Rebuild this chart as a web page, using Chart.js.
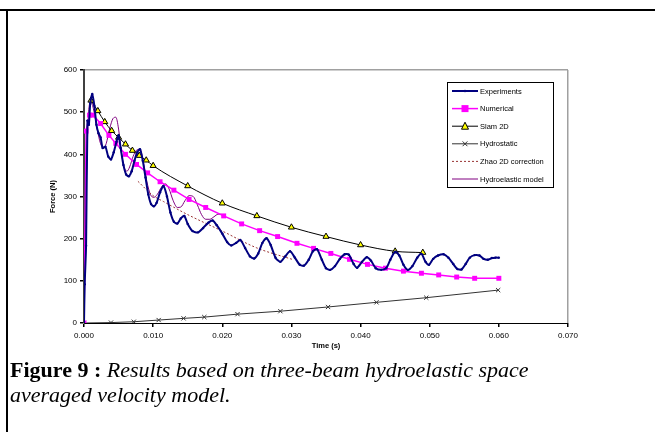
<!DOCTYPE html>
<html>
<head>
<meta charset="utf-8">
<script src="https://cdn.jsdelivr.net/npm/chart.js@4.4.0/dist/chart.umd.min.js"></script>
<style>
  html, body { margin: 0; padding: 0; background: #fff; overflow: hidden; }
  body { width: 655px; height: 432px; position: relative; }
  .frame-top { position: absolute; left: 0; top: 9px; width: 655px; height: 2px; background: #000; }
  .frame-left { position: absolute; left: 6px; top: 9px; width: 2px; height: 423px; background: #000; }
  #wrap { position: absolute; left: 0; top: 0; width: 600px; height: 360px; }
  .caption {
    position: absolute; left: 10px; top: 357px;
    font-family: "Liberation Serif", "Times New Roman", serif;
    font-size: 22px; line-height: 25px; color: #000; white-space: nowrap;
  }
  .caption b { font-weight: bold; }
  .caption i { font-style: italic; }
</style>
</head>
<body>
<div class="frame-top"></div>
<div class="frame-left"></div>
<div id="wrap"><canvas id="forceChart" width="600" height="360"></canvas></div>
<div class="caption"><b>Figure 9 :</b> <i>Results based on three-beam hydroelastic space<br>averaged velocity model.</i></div>

<script>
// values (time in s, force in N)
const expT = [0, 0.0001, 0.0003, 0.0005, 0.0007, 0.0009, 0.0012, 0.0015, 0.0018, 0.0021, 0.0024, 0.0027, 0.0031, 0.0035, 0.0039,
  0.0043, 0.0047, 0.0050, 0.0053, 0.0057, 0.0061, 0.0065, 0.0069, 0.0073, 0.0077, 0.0081, 0.0085, 0.0089, 0.0093, 0.0097,
  0.0101, 0.0105, 0.0110, 0.0115, 0.0120, 0.0125, 0.0130, 0.0135, 0.0140, 0.0145, 0.0150, 0.0157, 0.0165, 0.0172, 0.0180,
  0.0186, 0.0192, 0.0200, 0.0207, 0.0213, 0.0220, 0.0226, 0.0233, 0.0240, 0.0246, 0.0252, 0.0258, 0.0264, 0.0270, 0.0277,
  0.0284, 0.0291, 0.0298, 0.0305, 0.0312, 0.0318, 0.0325, 0.0331, 0.0337, 0.0344, 0.0350, 0.0356, 0.0363, 0.0370, 0.0377,
  0.0383, 0.0390, 0.0395, 0.0402, 0.0409, 0.0415, 0.0422, 0.0430, 0.0437, 0.0443, 0.0450, 0.0456, 0.0462, 0.0468, 0.0475,
  0.0482, 0.0488, 0.0494, 0.0499, 0.0505, 0.0512, 0.0520, 0.0527, 0.0534, 0.0540, 0.0546, 0.0552, 0.0558, 0.0565, 0.0572,
  0.0578, 0.0584, 0.0590, 0.0595, 0.0600];
const expF = [0, 92, 183, 480, 470, 520, 543, 515, 470, 450, 440, 415, 418, 395, 388,
  405, 430, 445, 415, 375, 352, 348, 360, 385, 405, 412, 385, 345, 305, 282,
  277, 285, 310, 325, 300, 262, 240, 236, 248, 254, 235, 218, 215, 225, 238,
  243, 232, 212, 192, 184, 190, 197, 178, 158, 153, 165, 190, 201, 185, 155,
  145, 158, 170, 155, 138, 136, 150, 170, 175, 150, 130, 126, 135, 152, 163,
  162, 140, 131, 145, 156, 148, 130, 126, 130, 150, 169, 160, 138, 126, 135,
  155, 164, 145, 138, 152, 160, 163, 155, 140, 128, 127, 140, 155, 161, 160,
  152, 150, 154, 155, 155];

const numT = [0, 0.0003, 0.0008, 0.0013, 0.0024, 0.0036, 0.0046, 0.0060, 0.0076, 0.0092, 0.0110, 0.0130, 0.0152, 0.0176, 0.0202,
  0.0228, 0.0254, 0.0280, 0.0308, 0.0332, 0.0357, 0.0384, 0.0410, 0.0436, 0.0462, 0.0488, 0.0513, 0.0539, 0.0565, 0.0600];
const numF = [0, 455, 493, 493, 473, 445, 426, 400, 376, 356, 335, 315, 293, 274, 254,
  235, 219, 205, 189, 177, 165, 151, 139, 130, 123, 118, 114, 109, 106, 106];

const slamT = [0.001, 0.002, 0.003, 0.004, 0.005, 0.006, 0.007, 0.008, 0.009, 0.010, 0.015, 0.020, 0.025, 0.030, 0.035, 0.040, 0.045, 0.049];
const slamF = [528, 503, 477, 456, 440, 424, 409, 397, 386, 373, 325, 284, 254, 227, 205, 185, 170, 167];

const hydT = [0, 0.0039, 0.0072, 0.0108, 0.0144, 0.0174, 0.0222, 0.0284, 0.0353, 0.0423, 0.0495, 0.0599];
const hydF = [0, 1, 3, 7, 11, 14, 21, 28, 38, 49, 60, 78];

const zhaoT = [0.0078, 0.0100, 0.0115, 0.0150, 0.0200, 0.0250, 0.0303];
const zhaoF = [336, 302, 288, 257, 218, 178, 150];

const elasT = [0, 0.0003, 0.0006, 0.0010, 0.0014, 0.0019, 0.0024, 0.0028, 0.0032, 0.0037, 0.0042, 0.0046, 0.0050, 0.0054, 0.0058,
  0.0062, 0.0066, 0.0071, 0.0076, 0.0081, 0.0086, 0.0091, 0.0096, 0.0101, 0.0106, 0.0112, 0.0118, 0.0123, 0.0129, 0.0135,
  0.0140, 0.0146, 0.0152, 0.0158, 0.0164, 0.0170, 0.0176, 0.0182, 0.0188, 0.0194, 0.0199];
const elasF = [0, 300, 480, 525, 505, 460, 425, 415, 425, 460, 485, 488, 460, 405, 370,
  360, 370, 395, 410, 412, 380, 335, 305, 298, 305, 322, 330, 318, 290, 274,
  275, 290, 302, 300, 280, 257, 246, 246, 252, 258, 258];

const xy = (ts, fs) => ts.map((t, i) => ({ x: t, y: fs[i] }));

const legendBox = {
  id: 'legendBox',
  afterDraw(chart) {
    const ctx = chart.ctx;
    const x0 = 447, y0 = 82, w = 106, h = 105;
    ctx.save();
    ctx.fillStyle = '#fff';
    ctx.fillRect(x0, y0, w, h);
    ctx.strokeStyle = '#000';
    ctx.lineWidth = 1;
    ctx.strokeRect(x0 + 0.5, y0 + 0.5, w, h);
    ctx.font = '7.5px "Liberation Sans", Arial, sans-serif';
    ctx.textBaseline = 'middle';
    chart.data.datasets.forEach((ds, i) => {
      const y = 91 + i * 17.6;
      ctx.setLineDash(ds.borderDash || []);
      ctx.strokeStyle = ds.borderColor;
      ctx.lineWidth = Math.min(ds.borderWidth, 2);
      ctx.beginPath();
      ctx.moveTo(452, y);
      ctx.lineTo(478, y);
      ctx.stroke();
      ctx.setLineDash([]);
      const r = ds.pointRadius;
      const cx = 465;
      ctx.fillStyle = ds.pointBackgroundColor;
      ctx.strokeStyle = ds.pointBorderColor;
      ctx.lineWidth = 1;
      if (r > 0) {
        ctx.beginPath();
        if (ds.pointStyle === 'rect') {
          ctx.fillRect(cx - r, y - r, 2 * r, 2 * r);
        } else if (ds.pointStyle === 'triangle') {
          ctx.moveTo(cx, y - r - 0.5);
          ctx.lineTo(cx + r, y + r - 0.5);
          ctx.lineTo(cx - r, y + r - 0.5);
          ctx.closePath();
          ctx.fill();
          ctx.stroke();
        } else if (ds.pointStyle === 'crossRot') {
          ctx.moveTo(cx - r * 0.8, y - r * 0.8); ctx.lineTo(cx + r * 0.8, y + r * 0.8);
          ctx.moveTo(cx + r * 0.8, y - r * 0.8); ctx.lineTo(cx - r * 0.8, y + r * 0.8);
          ctx.stroke();
        } else {
          ctx.arc(cx, y, r, 0, Math.PI * 2);
          ctx.fill();
        }
      }
      ctx.fillStyle = '#000';
      ctx.fillText(ds.label, 480, y + 0.5);
    });
    ctx.restore();
  }
};

new Chart(document.getElementById('forceChart').getContext('2d'), {
  type: 'line',
  data: {
    datasets: [
      {
        label: 'Experiments',
        data: xy(expT, expF),
        borderColor: '#000080',
        borderWidth: 2,
        pointStyle: 'circle',
        pointRadius: 1.2,
        pointBackgroundColor: '#000080',
        pointBorderColor: '#000080',
        pointBorderWidth: 0,
        fill: false,
        tension: 0.25
      },
      {
        label: 'Numerical',
        data: xy(numT, numF),
        borderColor: '#ff00ff',
        borderWidth: 1.5,
        pointStyle: 'rect',
        pointRadius: 3.5,
        pointBackgroundColor: '#ff00ff',
        pointBorderColor: '#ff00ff',
        pointBorderWidth: 0,
        fill: false
      },
      {
        label: 'Slam 2D',
        data: xy(slamT, slamF),
        borderColor: '#000',
        borderWidth: 1,
        pointStyle: 'triangle',
        pointRadius: 3.5,
        pointBackgroundColor: '#ffff00',
        pointBorderColor: '#000',
        pointBorderWidth: 1,
        fill: false,
        cubicInterpolationMode: 'monotone'
      },
      {
        label: 'Hydrostatic',
        data: xy(hydT, hydF),
        borderColor: '#333',
        borderWidth: 1,
        pointStyle: 'crossRot',
        pointRadius: 3,
        pointBackgroundColor: '#333',
        pointBorderColor: '#333',
        pointBorderWidth: 1,
        fill: false
      },
      {
        label: 'Zhao 2D correction',
        data: xy(zhaoT, zhaoF),
        borderColor: '#993333',
        borderWidth: 1,
        borderDash: [2, 2],
        pointRadius: 0,
        pointBackgroundColor: '#993333',
        pointBorderColor: '#993333',
        fill: false,
        cubicInterpolationMode: 'monotone'
      },
      {
        label: 'Hydroelastic model',
        data: xy(elasT, elasF),
        borderColor: '#800080',
        borderWidth: 1,
        pointRadius: 0,
        pointBackgroundColor: '#800080',
        pointBorderColor: '#800080',
        fill: false,
        cubicInterpolationMode: 'monotone'
      }
    ]
  },
  options: {
    responsive: false,
    animation: false,
    devicePixelRatio: 1,
    layout: { padding: { top: 70, right: 32, left: 0, bottom: 0 } },
    plugins: {
      legend: { display: false },
      tooltip: { enabled: false }
    },
    scales: {
      x: {
        type: 'linear',
        min: 0,
        max: 0.07,
        afterFit: (scale) => { scale.height = 37; },
        ticks: {
          stepSize: 0.01,
          padding: 4,
          color: '#000',
          font: { family: '"Liberation Sans", Arial, sans-serif', size: 8 },
          maxRotation: 0,
          callback: (value) => value.toFixed(3)
        },
        grid: {
          color: (c) => (c.tick && c.tick.value > 0.0699 ? '#a0a0a0' : 'rgba(0,0,0,0)'),
          lineWidth: 1.5,
          tickColor: '#000',
          tickLength: 4
        },
        border: { color: '#000', width: 1 },
        title: {
          display: true,
          text: 'Time (s)',
          color: '#000',
          font: { family: '"Liberation Sans", Arial, sans-serif', size: 7.5, weight: 'bold' },
          padding: { top: 0, bottom: 10 }
        }
      },
      y: {
        min: 0,
        max: 600,
        afterFit: (scale) => { scale.width = 84; },
        ticks: {
          stepSize: 100,
          padding: 3,
          color: '#000',
          font: { family: '"Liberation Sans", Arial, sans-serif', size: 8 }
        },
        grid: {
          color: (c) => (c.tick && c.tick.value === 600 ? '#a0a0a0' : 'rgba(0,0,0,0)'),
          lineWidth: 1.5,
          tickColor: '#000',
          tickLength: 4
        },
        border: { color: '#404040', width: 2 },
        title: {
          display: true,
          text: 'Force (N)',
          color: '#000',
          font: { family: '"Liberation Sans", Arial, sans-serif', size: 7.5, weight: 'bold' },
          padding: { top: 48, bottom: 0 }
        }
      }
    }
  },
  plugins: [legendBox]
});
</script>
</body>
</html>
